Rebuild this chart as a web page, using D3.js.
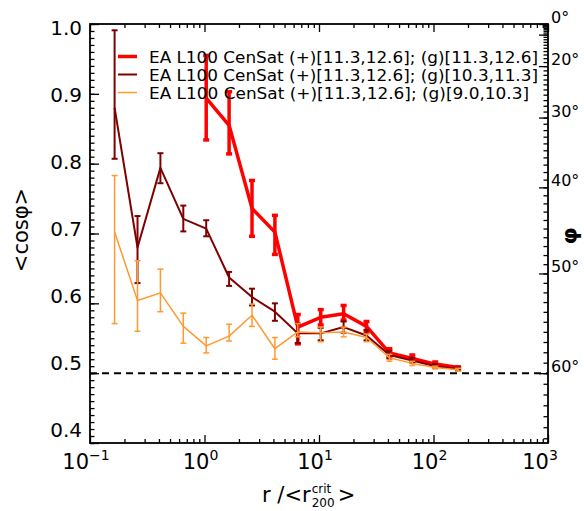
<!DOCTYPE html>
<html><head><meta charset="utf-8">
<script src="https://cdn.jsdelivr.net/npm/d3@7"></script>
<style>body{margin:0;background:#fff}svg{display:block}text{font-family:"DejaVu Sans",sans-serif;fill:#000}</style>
</head><body><svg id="c" width="584" height="511"></svg>
<script>
// ---- data ----
const radius = [0.164,0.260,0.412,0.653,1.035,1.64,2.60,4.12,6.53,10.35,16.4,26.0,41.2,65.3,103.5,164];
const seriesNames = [
  "EA L100 CenSat (+)[11.3,12.6]; (g)[11.3,12.6]",
  "EA L100 CenSat (+)[11.3,12.6]; (g)[10.3,11.3]",
  "EA L100 CenSat (+)[11.3,12.6]; (g)[9.0,10.3]"
];
const seriesColors = ["#ff0000","#7f0000","#ff9933"];
const seriesWidths = [3.5,2,1.5];
const redMean = [null,null,null,null,0.894,0.855,0.736,0.702,0.566,0.580,0.585,0.567,0.529,0.521,0.513,0.508];
const redLo   = [null,null,null,null,0.834,0.814,0.696,0.670,0.542,0.569,0.576,0.559,0.524,0.517,0.511,0.506];
const redHi   = [null,null,null,null,0.955,0.903,0.776,0.726,0.584,0.591,0.597,0.574,0.535,0.526,0.516,0.509];
const darkMean = [0.880,0.680,0.794,0.721,0.707,0.637,0.609,0.588,0.557,0.557,0.566,0.554,0.526,0.518,0.510,0.506];
const darkLo   = [0.807,0.629,0.772,0.703,0.696,0.625,0.597,0.575,0.543,0.547,0.558,0.547,0.521,0.515,0.508,0.504];
const darkHi   = [0.991,0.725,0.815,0.740,0.719,0.645,0.621,0.600,0.571,0.565,0.574,0.562,0.532,0.522,0.513,0.508];
const orangeMean = [0.702,0.604,0.615,0.567,0.539,0.553,0.583,0.535,0.559,0.558,0.559,0.551,0.522,0.514,0.508,0.505];
const orangeLo   = [0.571,0.560,0.588,0.543,0.529,0.546,0.567,0.520,0.552,0.545,0.552,0.545,0.517,0.511,0.506,0.503];
const orangeHi   = [0.783,0.661,0.649,0.586,0.551,0.570,0.599,0.551,0.571,0.566,0.566,0.556,0.527,0.517,0.510,0.507];
const xTickExp = [-1,0,1,2,3];
const yTicks = [0.4,0.5,0.6,0.7,0.8,0.9,1.0];
const phiMajor = [0,10,20,30,40,50,60];
const phiLabels = [0,20,30,40,50,60];
const refLevel = 0.5;

// ---- layout ----
const L=90,R=548,T=24,B=443;
const svg=d3.select("#c");
const x=d3.scaleLog().domain([0.1,1000]).range([L,R]);
const y=d3.scaleLinear().domain([0.4,1.0]).range([B,T]);

function styleAxis(g){g.select(".domain").remove();g.selectAll("line").attr("stroke","#000").attr("stroke-width",1.3);g.selectAll("text").remove();}

// x minor ticks
const xMinor=[];
for(const e of [-1,0,1,2]) for(let m=2;m<=9;m++) xMinor.push(m*Math.pow(10,e));
const xMaj=xTickExp.map(e=>Math.pow(10,e));
svg.append("g").attr("transform",`translate(0,${B})`).call(d3.axisBottom(x).tickValues(xMaj).tickSize(-8)).call(styleAxis);
svg.append("g").attr("transform",`translate(0,${B})`).call(d3.axisBottom(x).tickValues(xMinor).tickSize(-4)).call(styleAxis);
svg.append("g").attr("transform",`translate(0,${T})`).call(d3.axisTop(x).tickValues(xMaj).tickSize(-8)).call(styleAxis);
svg.append("g").attr("transform",`translate(0,${T})`).call(d3.axisTop(x).tickValues(xMinor).tickSize(-4)).call(styleAxis);

// y ticks
const yMinor=d3.range(40,101).map(v=>v/100);
svg.append("g").attr("transform",`translate(${L},0)`).call(d3.axisLeft(y).tickValues(yTicks).tickSize(-9)).call(styleAxis);
svg.append("g").attr("transform",`translate(${L},0)`).call(d3.axisLeft(y).tickValues(yMinor).tickSize(-4.5)).call(styleAxis);

// right phi axis
const phiMinor=d3.range(0,67).map(d=>Math.cos(d*Math.PI/180));
svg.append("g").attr("transform",`translate(${R},0)`).call(d3.axisRight(y).tickValues(phiMajor.map(d=>Math.cos(d*Math.PI/180))).tickSize(-9)).call(styleAxis);
svg.append("g").attr("transform",`translate(${R},0)`).call(d3.axisRight(y).tickValues(phiMinor).tickSize(-4.5)).call(styleAxis);

// frame
svg.append("rect").attr("x",L).attr("y",T).attr("width",R-L).attr("height",B-T).attr("fill","none").attr("stroke","#000").attr("stroke-width",1.8);

// dashed ref
svg.append("line").attr("x1",L).attr("x2",R).attr("y1",y(refLevel)).attr("y2",y(refLevel))
  .attr("stroke","#000").attr("stroke-width",2).attr("stroke-dasharray","7,5");

// tick labels
yTicks.forEach(v=>{
  const off=11-17*(1-v)/0.6;
  svg.append("text").attr("x",82).attr("y",y(v)+off).attr("text-anchor","end").attr("font-size",20).text(v.toFixed(1));
});
xTickExp.forEach((e,i)=>{
  const cx = x(Math.pow(10,e)) - (i===4?8:4);
  const t=svg.append("text").attr("x",cx).attr("y",469).attr("text-anchor","middle").attr("font-size",21);
  t.append("tspan").text("10");
  t.append("tspan").attr("dy",-9).attr("font-size",14).text(e<0?"\u2212"+Math.abs(e):String(e));
});
phiLabels.forEach(d=>{
  svg.append("text").attr("x",551).attr("y",y(Math.cos(d*Math.PI/180))-1).attr("font-size",16).text(d+"\u00B0");
});

// axis titles
svg.append("text").attr("transform","translate(28,230) rotate(-90)").attr("text-anchor","middle").attr("font-size",21).text("<cos\u03C6>");
svg.append("text").attr("transform","translate(577,236) rotate(-90)").attr("text-anchor","middle").attr("font-size",22).attr("font-weight","bold").text("\u03C6");
const xl=svg.append("text").attr("x",262).attr("y",502).attr("font-size",21).text("r  /<r");
const w=xl.node().getComputedTextLength();
svg.append("text").attr("x",262+w+1).attr("y",493).attr("font-size",12).text("crit");
svg.append("text").attr("x",262+w+1).attr("y",507).attr("font-size",12).text("200");
svg.append("text").attr("x",262+w+27).attr("y",502).attr("font-size",21).text(">");

// series
const series=[
  {mean:redMean,lo:redLo,hi:redHi},
  {mean:darkMean,lo:darkLo,hi:darkHi},
  {mean:orangeMean,lo:orangeLo,hi:orangeHi}
];
const line=d3.line().defined(d=>d.m!=null).x(d=>x(d.r)).y(d=>y(d.m));
series.forEach((s,si)=>{
  const pts=radius.map((r,i)=>({r,m:s.mean[i],lo:s.lo[i],hi:s.hi[i]})).filter(d=>d.m!=null);
  const g=svg.append("g").attr("stroke",seriesColors[si]).attr("stroke-width",seriesWidths[si]).attr("fill","none");
  g.append("path").datum(pts).attr("d",line).attr("stroke-linejoin","round");
  pts.forEach(d=>{
    g.append("line").attr("x1",x(d.r)).attr("x2",x(d.r)).attr("y1",y(d.lo)).attr("y2",y(d.hi));
    [d.lo,d.hi].forEach(v=>g.append("line").attr("x1",x(d.r)-3).attr("x2",x(d.r)+3).attr("y1",y(v)).attr("y2",y(v)));
  });
});

// legend
seriesNames.forEach((n,i)=>{
  const ly=56.5+i*18;
  svg.append("line").attr("x1",118).attr("x2",137).attr("y1",ly).attr("y2",ly).attr("stroke",seriesColors[i]).attr("stroke-width",seriesWidths[i]);
  svg.append("text").attr("x",149).attr("y",ly+6).attr("font-size",16).attr("textLength",i===2?380:389).attr("lengthAdjust","spacingAndGlyphs").text(n);
});
</script></body></html>
